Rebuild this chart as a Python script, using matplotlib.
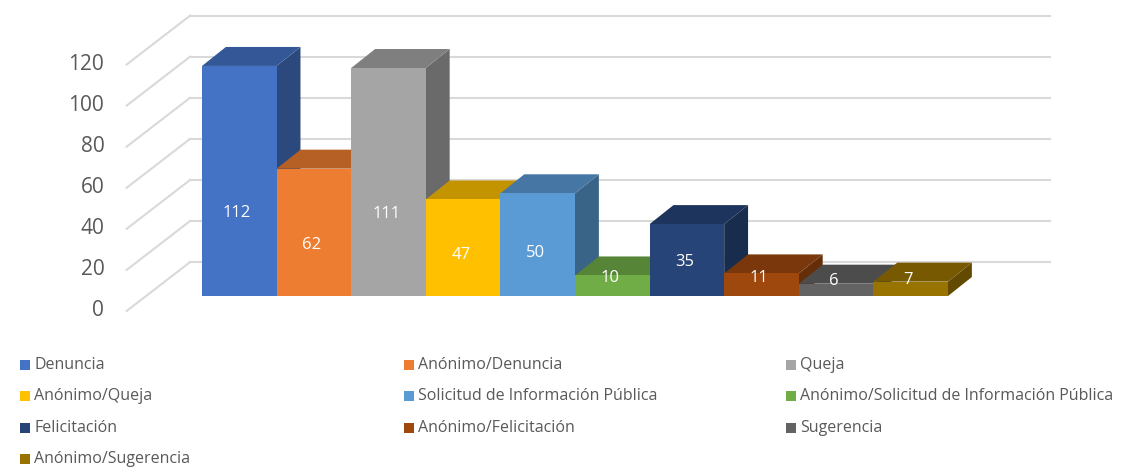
import matplotlib
matplotlib.use("Agg")
import matplotlib.pyplot as plt
from matplotlib.patches import Polygon, Rectangle
from matplotlib.colors import to_rgb

plt.rcParams['font.family'] = ['Open Sans', 'DejaVu Sans']

categorias = ["Denuncia", "Anónimo/Denuncia", "Queja", "Anónimo/Queja",
              "Solicitud de Información Pública", "Anónimo/Solicitud de Información Pública",
              "Felicitación", "Anónimo/Felicitación", "Sugerencia", "Anónimo/Sugerencia"]
valores = [112, 62, 111, 47, 50, 10, 35, 11, 6, 7]
colores = ["#4472C4", "#ED7D31", "#A5A5A5", "#FFC000", "#5B9BD5",
           "#70AD47", "#264478", "#9E480E", "#636363", "#997300"]
ticks = [0, 20, 40, 60, 80, 100, 120]

# oblique "3D" offsets (x in bar widths, y in value units)
DX, DY = 0.32, 9.25          # bar depth
BX, BY = 0.59, 16.5          # back wall relative to bar front plane
LX, LY = -0.26, -7.3         # front edge of the left wall
X_FRONT = -0.75              # left edge of the front plane
X_RIGHT = 11.37              # right end of back grid


def shade(c, f):
    r, g, b = to_rgb(c)
    return (r * f, g * f, b * f)


fig = plt.figure(figsize=(11.22, 4.69), dpi=100)
ax = fig.add_axes([0, 0, 1, 1])
ax.set_xlim(-202 / 74.6, (1122 - 202) / 74.6)
ax.set_ylim((296 - 469) / 2.054, 296 / 2.054)
ax.axis("off")

grid = "#D9D9D9"
for t in ticks:
    xb, yb = X_FRONT + BX, t + BY
    ax.plot([xb, X_RIGHT], [yb, yb], color=grid, lw=1.5, zorder=1)
    ax.plot([X_FRONT + LX, xb], [t + LY, yb], color=grid, lw=1.5, zorder=1)
    ax.text(X_FRONT + LX - 0.3, t + LY, str(t), ha="right", va="center",
            fontsize=15, color="#595959")

for i, (v, c) in enumerate(zip(valores, colores)):
    z = 2 + i
    side = [(i + 1, 0), (i + 1 + DX, DY), (i + 1 + DX, v + DY), (i + 1, v)]
    top = [(i, v), (i + 1, v), (i + 1 + DX, v + DY), (i + DX, v + DY)]
    ax.add_patch(Polygon(side, closed=True, facecolor=shade(c, 0.64), edgecolor="none", zorder=z))
    ax.add_patch(Polygon(top, closed=True, facecolor=shade(c, 0.77), edgecolor="none", zorder=z))
    ax.add_patch(Rectangle((i, 0), 1, v, facecolor=c, edgecolor="none", zorder=z))
    ax.text(i + 0.47, 0.31 * v + 5.5, str(v), ha="center", va="center",
            color="white", fontsize=12, zorder=20)

# legend, Excel style fixed columns
col_x = [20, 404, 786]
row_y = [365, 396, 428, 459]
W, H = 1122.0, 469.0
for k, (name, c) in enumerate(zip(categorias, colores)):
    px, py = col_x[k % 3], row_y[k // 3]
    fig.add_artist(Rectangle((px / W, (H - py - 5) / H), 10 / W, 10 / H,
                             transform=fig.transFigure, facecolor=c, edgecolor="none"))
    fig.text((px + 14) / W, (H - py) / H, name, ha="left", va="center",
             fontsize=11.5, color="#595959")

fig.savefig("out.png", dpi=100)
